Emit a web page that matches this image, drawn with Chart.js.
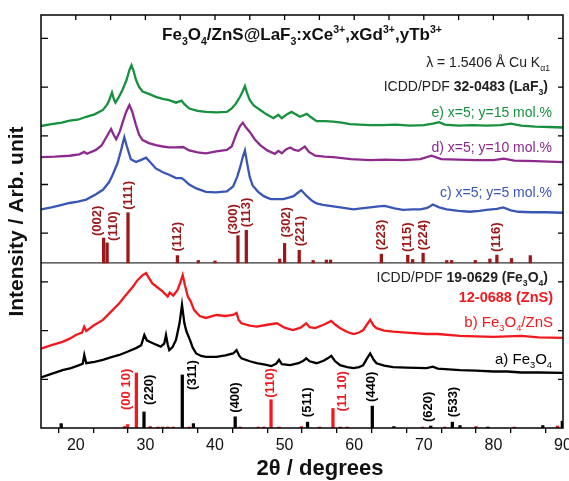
<!DOCTYPE html>
<html>
<head>
<meta charset="utf-8">
<script src="https://cdn.jsdelivr.net/npm/chart.js"></script>
<style>
  html, body { margin: 0; padding: 0; background: #fff; }
  #wrap { width: 569px; height: 481px; }
</style>
</head>
<body>
<div id="wrap"><canvas id="xrd" width="569" height="481"></canvas></div>
<script>
const FONT = '"Liberation Sans", Arial, Helvetica, sans-serif';

// measured patterns (already offset for stacking), 2theta in degrees
const thetaE = [15, 16.5, 18, 19.1, 20.3, 21.5, 22.7, 23.9, 24.5, 24.8, 25.2, 25.5, 25.7, 26.2, 26.7, 27.3, 27.7, 28, 28.3, 28.65, 29.1, 29.6, 30.5, 31.5, 32.5, 33.4, 34.4, 35.2, 35.6, 36.3, 37.5, 38.7, 40.2, 41.7, 42.4, 43, 43.6, 44, 44.3, 44.6, 45, 45.6, 46.5, 47.4, 48.4, 49.1, 49.6, 50.3, 51, 51.6, 52.2, 53.2, 53.8, 54.6, 55.8, 57, 58.2, 59.4, 60.8, 62.3, 64, 66, 68, 70, 71.3, 72.2, 73, 75, 77, 79, 81, 82.5, 84, 86, 88, 90];
const intensityE = [6.20, 6.24, 6.27, 6.31, 6.33, 6.39, 6.44, 6.53, 6.64, 6.73, 6.89, 6.74, 6.68, 6.80, 6.94, 7.15, 7.35, 7.45, 7.33, 7.15, 7.00, 6.91, 6.86, 6.80, 6.76, 6.73, 6.68, 6.72, 6.65, 6.56, 6.51, 6.49, 6.48, 6.49, 6.56, 6.66, 6.80, 6.92, 7.02, 6.88, 6.73, 6.62, 6.53, 6.44, 6.36, 6.43, 6.36, 6.44, 6.49, 6.44, 6.39, 6.45, 6.38, 6.30, 6.30, 6.29, 6.27, 6.24, 6.23, 6.22, 6.22, 6.23, 6.21, 6.22, 6.25, 6.28, 6.23, 6.21, 6.22, 6.21, 6.22, 6.25, 6.21, 6.19, 6.18, 6.17];

const thetaD = [15, 17, 19.1, 20.5, 21.2, 21.6, 22.9, 23.7, 24.3, 25.06, 25.4, 25.8, 26.3, 26.7, 27.2, 27.7, 28.1, 28.65, 29.1, 29.6, 30.5, 31.5, 32.5, 33.4, 34.4, 35.4, 36.3, 37.5, 38.7, 40.2, 41.7, 42.4, 43.1, 43.6, 44, 44.4, 45, 45.7, 46.5, 47.5, 48.6, 49.1, 49.6, 50.2, 50.8, 51.4, 52, 52.9, 53.5, 54.4, 55.7, 57, 59.5, 62.3, 64.5, 67, 69.5, 71.1, 72.5, 75, 77.5, 80, 81.5, 83, 86, 88, 90];
const intensityD = [5.56, 5.57, 5.59, 5.62, 5.67, 5.63, 5.71, 5.80, 5.95, 6.14, 6.03, 5.93, 6.08, 6.26, 6.48, 6.63, 6.50, 6.22, 6.02, 5.91, 5.85, 5.81, 5.78, 5.76, 5.76, 5.77, 5.70, 5.66, 5.64, 5.68, 5.71, 5.78, 6.05, 6.20, 6.27, 6.18, 6.08, 5.93, 5.81, 5.70, 5.63, 5.69, 5.64, 5.72, 5.76, 5.71, 5.69, 5.78, 5.67, 5.59, 5.57, 5.56, 5.52, 5.50, 5.51, 5.50, 5.52, 5.59, 5.52, 5.51, 5.50, 5.50, 5.53, 5.49, 5.48, 5.47, 5.46];

const thetaC = [15, 16.5, 18, 19.1, 20.3, 21.5, 22.9, 23.9, 24.8, 25.3, 26, 26.5, 26.97, 27.3, 27.9, 28.65, 29.3, 30.1, 30.6, 31.5, 32.5, 33.4, 34.4, 35.2, 35.6, 36.3, 37.3, 38.7, 40.1, 41.7, 42.6, 43.2, 43.6, 44, 44.3, 44.6, 45, 45.4, 46.2, 47, 48, 49, 49.8, 50.6, 51.3, 51.9, 52.4, 53.2, 54, 54.6, 55.5, 56.5, 58, 59.9, 61, 62.3, 63.5, 64.4, 65.8, 67, 68.5, 69.5, 70.5, 71.3, 72.2, 73.3, 75, 76.6, 78, 79, 80.5, 81.4, 82.5, 83.6, 85.5, 87.5, 90];
const intensityC = [4.49, 4.53, 4.58, 4.62, 4.65, 4.69, 4.80, 4.89, 5.05, 5.20, 5.44, 5.70, 5.97, 5.80, 5.52, 5.46, 5.50, 5.55, 5.47, 5.33, 5.25, 5.20, 5.13, 5.13, 5.09, 5.00, 4.92, 4.85, 4.84, 4.86, 4.96, 5.16, 5.35, 5.57, 5.70, 5.45, 5.15, 4.98, 4.85, 4.76, 4.70, 4.70, 4.70, 4.73, 4.76, 4.83, 4.88, 4.76, 4.66, 4.61, 4.58, 4.56, 4.53, 4.49, 4.51, 4.53, 4.55, 4.56, 4.51, 4.48, 4.49, 4.49, 4.52, 4.59, 4.53, 4.49, 4.46, 4.44, 4.46, 4.48, 4.50, 4.53, 4.47, 4.44, 4.43, 4.43, 4.42];

const thetaB = [15, 16.5, 18.1, 19.2, 20, 20.9, 21.2, 21.5, 22.5, 23.9, 25, 26.25, 27.2, 28.2, 28.9, 29.6, 30.1, 30.5, 31, 31.8, 32.5, 33.2, 33.5, 34, 34.6, 35, 35.36, 35.7, 36.1, 36.5, 37, 37.8, 38.7, 40.2, 41.5, 42.6, 43.1, 43.4, 43.8, 45, 46, 47.5, 48.9, 50, 51.2, 52.3, 53.1, 53.6, 54.4, 55.6, 56.7, 57.3, 58, 59, 59.9, 60.7, 61.3, 61.8, 62.3, 62.8, 63.2, 64.3, 65.6, 67.5, 70.4, 72, 75.2, 77.5, 80, 82, 84, 86.5, 90];
const intensityB = [1.63, 1.70, 1.77, 1.84, 1.91, 1.96, 2.08, 1.99, 2.10, 2.22, 2.38, 2.56, 2.73, 2.90, 3.04, 3.14, 3.18, 3.08, 2.97, 2.88, 2.80, 2.70, 2.78, 2.72, 2.83, 2.98, 3.14, 2.92, 2.70, 2.60, 2.42, 2.30, 2.26, 2.32, 2.30, 2.32, 2.36, 2.22, 2.15, 2.10, 2.08, 2.12, 2.15, 2.06, 2.01, 2.06, 2.15, 2.07, 2.05, 2.12, 2.20, 2.12, 2.05, 1.97, 1.93, 1.96, 2.01, 2.12, 2.22, 2.10, 2.05, 2.00, 1.98, 1.96, 1.93, 1.93, 1.89, 1.88, 1.87, 1.88, 1.89, 1.86, 1.85];

const thetaA = [15, 16.5, 18.1, 19.3, 20.5, 21, 21.22, 21.5, 22.7, 23.9, 25, 26.25, 27.5, 28.65, 29.4, 29.85, 30.2, 30.6, 31.4, 32.2, 32.7, 32.96, 33.2, 33.43, 33.9, 34.4, 34.9, 35.26, 35.6, 35.9, 36.4, 36.8, 37.3, 38, 38.7, 40.2, 41.5, 42.6, 43.1, 43.5, 43.8, 45, 46, 47.2, 48.1, 48.8, 49.2, 49.6, 50.8, 52, 52.7, 53.1, 53.6, 54.6, 55.6, 56.2, 56.7, 57.2, 57.96, 59, 59.9, 60.7, 61.3, 61.8, 62.3, 62.8, 63.2, 64.3, 65.6, 67.5, 70.4, 71.3, 72, 75.2, 77.5, 80, 82, 84, 86.5, 90];
const intensityA = [1.04, 1.11, 1.19, 1.23, 1.29, 1.32, 1.50, 1.33, 1.36, 1.40, 1.45, 1.50, 1.57, 1.64, 1.70, 1.91, 1.80, 1.77, 1.72, 1.67, 1.73, 1.91, 1.72, 1.60, 1.66, 1.81, 2.15, 2.53, 2.15, 1.98, 1.81, 1.65, 1.53, 1.48, 1.46, 1.46, 1.49, 1.53, 1.60, 1.48, 1.43, 1.37, 1.33, 1.30, 1.27, 1.32, 1.40, 1.31, 1.29, 1.33, 1.38, 1.43, 1.37, 1.33, 1.38, 1.43, 1.48, 1.38, 1.29, 1.25, 1.23, 1.25, 1.29, 1.42, 1.53, 1.40, 1.33, 1.28, 1.25, 1.24, 1.23, 1.26, 1.22, 1.19, 1.18, 1.16, 1.16, 1.14, 1.14, 1.13];

// reference cards (stick patterns)
const lafBase = 3.39;
const lafPeaks = [24.0, 24.5, 27.5, 34.6, 37.6, 40.0, 43.3, 44.5, 49.3, 50.0, 52.1, 54.1, 56.0, 56.6, 63.9, 67.7, 68.4, 69.9, 73.3, 74.0, 77.4, 79.5, 80.5, 82.6, 85.3];
const lafHeights = [0.51, 0.41, 1.03, 0.15, 0.05, 0.04, 0.56, 0.67, 0.08, 0.40, 0.26, 0.05, 0.06, 0.06, 0.18, 0.16, 0.07, 0.20, 0.05, 0.05, 0.05, 0.08, 0.16, 0.09, 0.15];
const lafHkl = ['(002)', '(110)', '(111)', '(112)', '', '', '(300)', '(113)', '', '(302)', '(221)', '', '', '', '(223)', '(115)', '', '(224)', '', '', '', '', '(116)', '', ''];

const fePeaks = [17.9, 29.8, 35.3, 36.9, 42.9, 53.3, 62.6, 65.7, 71.0, 74.1, 75.2, 79.2, 87.1, 89.9];
const feHeights = [0.09, 0.33, 1.09, 0.09, 0.23, 0.12, 0.45, 0.03, 0.04, 0.12, 0.05, 0.02, 0.05, 0.14];
const feHkl = ['', '(220)', '(311)', '', '(400)', '(511)', '(440)', '', '(620)', '(533)', '', '', '', ''];

const znsPeaks = [27.0, 27.45, 28.7, 30.7, 31.8, 32.5, 33.2, 34.0, 36.3, 43.6, 46.2, 47.0, 48.05, 49.2, 52.4, 55.0, 56.95, 58.0, 59.0, 69.8, 73.0, 77.5, 83.0, 89.2];
const znsHeights = [0.03, 0.07, 1.13, 0.03, 0.02, 0.02, 0.02, 0.02, 0.02, 0.02, 0.02, 0.02, 0.58, 0.02, 0.03, 0.02, 0.40, 0.02, 0.02, 0.02, 0.02, 0.03, 0.02, 0.04];
const znsHkl = ['', '', '(00 10)', '', '', '', '', '', '', '', '', '', '(110)', '', '', '', '(11 10)', '', '', '', '', '', '', ''];

const xMin = 15, xMax = 90, yMax = 8.48;

const COL = {
  e: '#17913f', d: '#8c2a8e', c: '#3a56b4', b: '#f0191e', a: '#000000', laf: '#9c1717'
};

function xy(t, v) { return t.map((x, i) => ({ x: x, y: v[i] })); }
function sticks(t, h, base) { return t.map((x, i) => ({ x: x, y: [base, base + h[i]] })); }

function lineSet(data, color) {
  return { type: 'line', data: data, borderColor: color, borderWidth: 2.3, pointRadius: 0, tension: 0, order: 1 };
}
function barSet(data, color) {
  return { type: 'bar', data: data, backgroundColor: color, borderWidth: 0, barThickness: 2.6, grouped: false, order: 2 };
}

// text with sub/superscripts: [text, bold, pos(-1 sub, 1 sup)]
function drawRich(ctx, parts, x, y, size, align, color) {
  const fontFor = p => (p[1] ? 'bold ' : '') + (p[2] ? size * 0.62 : size) + 'px ' + FONT;
  let w = 0;
  parts.forEach(p => { ctx.font = fontFor(p); w += ctx.measureText(p[0]).width; });
  let cx = align === 'right' ? x - w : align === 'center' ? x - w / 2 : x;
  ctx.fillStyle = color;
  ctx.textAlign = 'left';
  ctx.textBaseline = 'alphabetic';
  parts.forEach(p => {
    ctx.font = fontFor(p);
    const dy = p[2] === -1 ? size * 0.28 : p[2] === 1 ? -size * 0.42 : 0;
    ctx.fillText(p[0], cx, y + dy);
    cx += ctx.measureText(p[0]).width;
  });
}

function drawHkl(ctx, sx, sy, peaks, heights, base, labels, nudge, color) {
  ctx.save();
  ctx.font = 'bold 13px ' + FONT;
  ctx.fillStyle = color;
  ctx.textAlign = 'left';
  ctx.textBaseline = 'middle';
  peaks.forEach((t, i) => {
    const lab = labels[i];
    if (!lab) return;
    const n = nudge[lab] || [0, 3];
    const px = sx.getPixelForValue(t) + n[0];
    const py = sy.getPixelForValue(base + heights[i]) - n[1];
    ctx.save();
    ctx.translate(px, py);
    ctx.rotate(-Math.PI / 2);
    ctx.fillText(lab, 0, 0);
    ctx.restore();
  });
  ctx.restore();
}

const lafNudge = { '(002)': [-6, 2], '(110)': [6, 2], '(112)': [0, 4], '(300)': [-5, 1], '(302)': [2, 6], '(221)': [1, 4], '(223)': [0, 4] };
const feNudge = { '(220)': [5, 7], '(311)': [10, -15], '(400)': [0, 4], '(511)': [0, 5], '(440)': [-1, 4], '(620)': [-2, 4], '(533)': [1, 5] };
const znsNudge = { '(00 10)': [-10, -37], '(110)': [-1, 2], '(11 10)': [9, -3] };

const decorations = {
  id: 'decorations',
  afterDatasetsDraw(chart) {
    const ctx = chart.ctx;
    const { left, right, top, bottom } = chart.chartArea;
    const sx = chart.scales.x, sy = chart.scales.y;
    ctx.save();
    // frame and inner ticks
    ctx.strokeStyle = '#000';
    ctx.lineWidth = 1.5;
    ctx.strokeRect(left, top, right - left, bottom - top);
    ctx.lineWidth = 1.3;
    ctx.beginPath();
    for (let v = 1; v < yMax; v++) {
      const py = sy.getPixelForValue(v);
      ctx.moveTo(left, py); ctx.lineTo(left + 7, py);
      ctx.moveTo(right, py); ctx.lineTo(right - 5, py);
    }
    for (let t = xMin + 5; t < xMax; t += 5) {
      const px = sx.getPixelForValue(t);
      ctx.moveTo(px, top); ctx.lineTo(px, top + 5);
    }
    ctx.stroke();

    drawHkl(ctx, sx, sy, lafPeaks, lafHeights, lafBase, lafHkl, lafNudge, COL.laf);
    drawHkl(ctx, sx, sy, fePeaks, feHeights, 0, feHkl, feNudge, '#000');
    drawHkl(ctx, sx, sy, znsPeaks, znsHeights, 0, znsHkl, znsNudge, COL.b);

    const cx = (left + right) / 2;
    drawRich(ctx, [['Fe', 1, 0], ['3', 1, -1], ['O', 1, 0], ['4', 1, -1], ['/ZnS@LaF', 1, 0], ['3', 1, -1],
      [':xCe', 1, 0], ['3+', 1, 1], [',xGd', 1, 0], ['3+', 1, 1], [',yTb', 1, 0], ['3+', 1, 1]], cx, 40, 17, 'center', '#111');
    drawRich(ctx, [['\u03bb = 1.5406 \u00c5 Cu K', 0, 0], ['\u03b11', 0, -1]], right - 13, 67, 14, 'right', '#222');
    drawRich(ctx, [['ICDD/PDF ', 0, 0], ['32-0483 (LaF', 1, 0], ['3', 1, -1], [')', 1, 0]], right - 15, 91, 14, 'right', '#222');
    drawRich(ctx, [['e) x=5; y=15 mol.%', 0, 0]], right - 11, 117, 14, 'right', COL.e);
    drawRich(ctx, [['d) x=5; y=10 mol.%', 0, 0]], right - 11, 152, 14, 'right', COL.d);
    drawRich(ctx, [['c) x=5; y=5 mol.%', 0, 0]], right - 11, 197, 14, 'right', COL.c);
    drawRich(ctx, [['ICDD/PDF ', 0, 0], ['19-0629 (Fe', 1, 0], ['3', 1, -1], ['O', 1, 0], ['4', 1, -1], [')', 1, 0]], right - 15, 282, 14, 'right', '#222');
    drawRich(ctx, [['12-0688 (ZnS)', 1, 0]], right - 10, 302, 14.5, 'right', COL.b);
    drawRich(ctx, [['b) Fe', 0, 0], ['3', 0, -1], ['O', 0, 0], ['4', 0, -1], ['/ZnS', 0, 0]], right - 10, 327, 15, 'right', COL.b);
    drawRich(ctx, [['a) Fe', 0, 0], ['3', 0, -1], ['O', 0, 0], ['4', 0, -1]], right - 11, 364, 15, 'right', '#000');

    // x axis title, set a little right of centre as in the source figure
    ctx.font = 'bold 22px ' + FONT;
    ctx.fillStyle = '#111';
    ctx.textAlign = 'center';
    ctx.textBaseline = 'alphabetic';
    ctx.fillText('2\u03b8 / degrees', cx + 18, 475);
    ctx.restore();
  }
};

new Chart(document.getElementById('xrd'), {
  type: 'line',
  data: {
    datasets: [
      lineSet(xy(thetaE, intensityE), COL.e),
      lineSet(xy(thetaD, intensityD), COL.d),
      lineSet(xy(thetaC, intensityC), COL.c),
      lineSet(xy(thetaB, intensityB), COL.b),
      lineSet(xy(thetaA, intensityA), COL.a),
      { type: 'line', data: [{ x: xMin, y: lafBase }, { x: xMax, y: lafBase }], borderColor: '#333', borderWidth: 1.2, pointRadius: 0, order: 3 },
      barSet(sticks(lafPeaks, lafHeights, lafBase), COL.laf),
      barSet(sticks(znsPeaks, znsHeights, 0), COL.b),
      barSet(sticks(fePeaks, feHeights, 0), '#000')
    ]
  },
  options: {
    responsive: false,
    devicePixelRatio: 1,
    animation: false,
    layout: { padding: { top: 15, right: 6, left: 0, bottom: 0 } },
    plugins: { legend: { display: false }, tooltip: { enabled: false } },
    scales: {
      x: {
        type: 'linear', min: xMin, max: xMax, offset: false,
        ticks: {
          stepSize: 5, autoSkip: false, maxRotation: 0, padding: 3, color: '#111',
          font: { size: 16, family: FONT },
          callback: v => (v % 10 === 0 ? v : '')
        },
        grid: { drawOnChartArea: false, tickLength: 5, color: '#000', lineWidth: 1.3 },
        border: { display: false },
        title: { display: false },
        afterFit(s) { s.height = 53; s.paddingLeft = 0; s.paddingRight = 0; }
      },
      y: {
        min: 0, max: yMax,
        ticks: { display: false },
        grid: { display: false },
        border: { display: false },
        title: { display: true, text: 'Intensity / Arb. unit', color: '#111', font: { size: 21, weight: 'bold', family: FONT }, padding: { top: 5, bottom: 0 } },
        afterFit(s) { s.width = 41; }
      }
    }
  },
  plugins: [decorations]
});
</script>
</body>
</html>
